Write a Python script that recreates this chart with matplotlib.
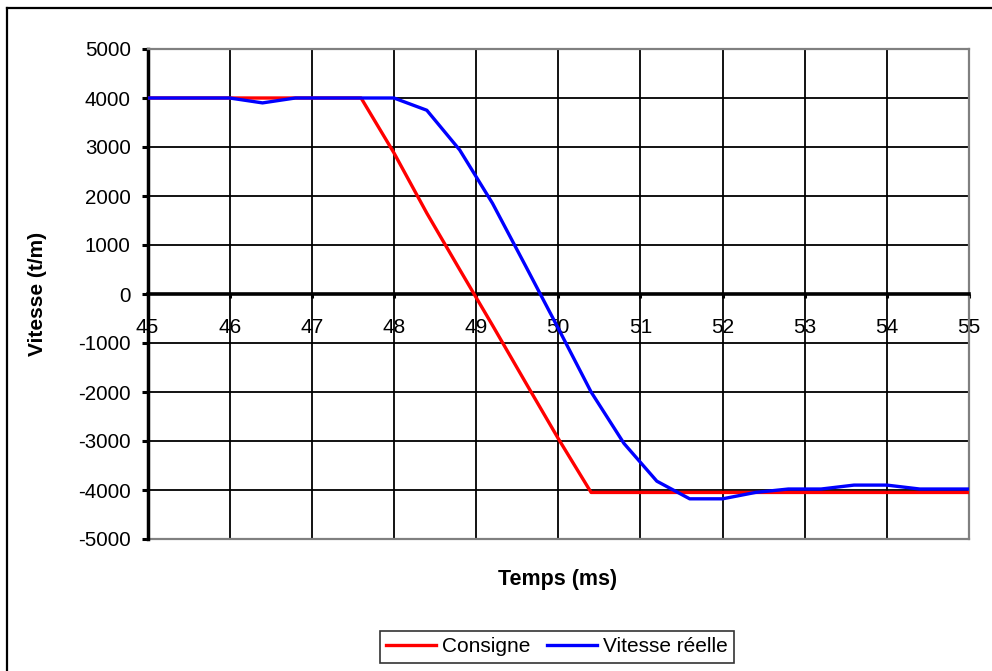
import matplotlib
matplotlib.use("Agg")
import matplotlib.pyplot as plt
from matplotlib.lines import Line2D

plt.rcParams['font.family'] = ['Liberation Sans', 'DejaVu Sans']

# ---- data ----
temps = [44.8, 45.2, 45.6, 46.0, 46.4, 46.8, 47.2, 47.6, 48.0, 48.4, 48.8, 49.2, 49.6,
         50.0, 50.4, 50.8, 51.2, 51.6, 52.0, 52.4, 52.8, 53.2, 53.6, 54.0, 54.4, 54.8, 55.2]
consigne = [4000, 4000, 4000, 4000, 4000, 4000, 4000, 4000, 2880, 1650, 500, -640, -1800,
            -2950, -4050, -4050, -4050, -4050, -4050, -4050, -4050, -4050, -4050, -4050,
            -4050, -4050, -4050]
vitesse = [4000, 4000, 4000, 4000, 3900, 4000, 4000, 4000, 4000, 3750, 2940, 1850, 580,
           -700, -2000, -3050, -3820, -4180, -4180, -4050, -3980, -3980, -3900, -3900,
           -3980, -3980, -3980]
x_ticks = [45, 46, 47, 48, 49, 50, 51, 52, 53, 54, 55]
y_ticks = [-5000, -4000, -3000, -2000, -1000, 0, 1000, 2000, 3000, 4000, 5000]
series_names = ["Consigne", "Vitesse réelle"]
series_colors = ["#ff0000", "#0000ff"]

W, H = 992, 671
fig = plt.figure(figsize=(W / 100, H / 100), dpi=100)
ax = fig.add_axes([147.5 / W, 1 - 539 / H, (969 - 147.5) / W, (539 - 49) / H])

for yv, name, col in zip([consigne, vitesse], series_names, series_colors):
    ax.plot(temps, yv, color=col, lw=2.4, label=name, zorder=3)

ax.set_xlim(45, 55)
ax.set_ylim(-5000, 5000)
ax.set_xticks(x_ticks)
ax.set_yticks(y_ticks)
ax.set_xticklabels([str(v) for v in x_ticks])
ax.set_yticklabels([str(v) for v in y_ticks])
ax.grid(True, color='black', lw=1.3, zorder=1)
ax.set_axisbelow(True)

for s in ['top', 'right']:
    ax.spines[s].set_color('#808080')
    ax.spines[s].set_linewidth(1.6)
ax.spines['left'].set_color('black')
ax.spines['left'].set_linewidth(2.5)
ax.spines['bottom'].set_position(('data', 0))
ax.spines['bottom'].set_color('black')
ax.spines['bottom'].set_linewidth(2.6)
ax.spines['bottom'].set_zorder(2.5)
ax.axhline(-5000, color='#808080', lw=1.6, clip_on=False, zorder=2)

ax.tick_params(axis='y', direction='out', length=4, width=2.2, pad=8, labelsize=14.8)
ax.tick_params(axis='x', direction='out', length=3, width=2.2, pad=14, labelsize=15)

ax.set_ylabel("Vitesse (t/m)", fontsize=15, fontweight='bold')
ax.yaxis.set_label_coords(-(147.5 - 47) / (969 - 147.5), 0.5)

fig.text(558 / W, 1 - 580 / H, "Temps (ms)", fontsize=15.5, fontweight='bold',
         ha='center', va='center')

leg = fig.legend(loc='center', bbox_to_anchor=(557 / W, 1 - 647 / H), ncol=2,
                 fontsize=15, frameon=True, fancybox=False, edgecolor='black',
                 handlelength=2.4, handletextpad=0.3, columnspacing=0.8,
                 borderpad=0.3, borderaxespad=0)
leg.get_frame().set_linewidth(1.2)

# outer chart border (cropped on right and bottom)
fig.add_artist(Line2D([7 / W, 7 / W], [0, 1 - 8 / H], transform=fig.transFigure,
                      color='black', lw=1.6))
fig.add_artist(Line2D([7 / W, 1], [1 - 8 / H, 1 - 8 / H], transform=fig.transFigure,
                      color='black', lw=1.6))

fig.savefig("out.png", dpi=100)
